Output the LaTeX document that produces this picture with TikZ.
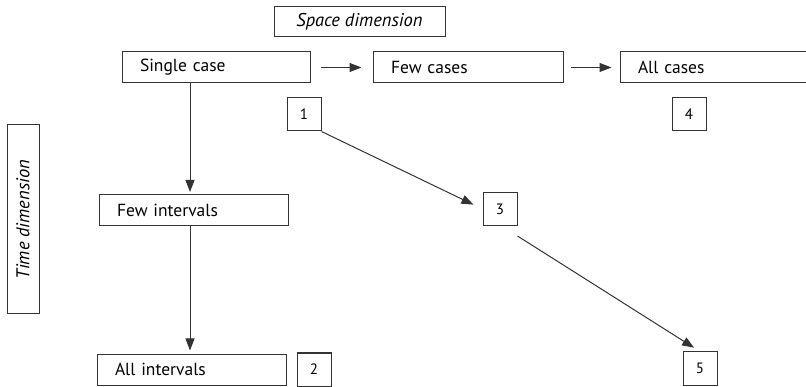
\documentclass[tikz,border=0pt]{standalone}
\usepackage{fontspec}
\setmainfont{PT Sans}
\usetikzlibrary{arrows.meta,calc}
\definecolor{ln}{HTML}{333333}
\tikzset{
  cbox/.style={draw=ln, line width=1pt, minimum height=31pt, inner xsep=18pt, inner ysep=0pt, align=left, font=\fontsize{17.5}{20}\selectfont},
  nbox/.style={draw=ln, line width=1pt, minimum width=34pt, minimum height=33pt, inner sep=0pt, font=\fontsize{15}{17}\selectfont},
  lbox/.style={draw=ln, line width=1pt, inner sep=0pt, font=\fontsize{18.5}{20}\selectfont\itshape},
  arr/.style={draw=ln, line width=1pt, -{Triangle[length=12pt,width=9pt]}}
}
\begin{document}
\begin{tikzpicture}[x=1pt,y=-1pt]
\useasboundingbox (0,0) rectangle (806,387);
\node[lbox, minimum width=171pt, minimum height=30pt] (space) at (359.5,22) {Space dimension};
\node[lbox, minimum width=189pt, minimum height=32pt, rotate=90] (time) at (23,219.5) {Time dimension};

\node[cbox, minimum width=188pt, text width=152pt] (single) at (216,67.5) {Single case};
\node[cbox, minimum width=190pt, text width=154pt] (fewc) at (468,67.5) {Few cases};
\node[cbox, minimum width=190pt, text width=154pt] (allc) at (715,67.5) {All cases};
\node[cbox, minimum width=189pt, text width=153pt] (fewi) at (193.5,210) {Few intervals};
\node[cbox, minimum width=189pt, text width=153pt] (alli) at (191.5,369.5) {All intervals};

\node[nbox] (b1) at (304,114.5) {1};
\node[nbox] (b2) at (314,369.5) {2};
\node[nbox] (b3) at (500,209) {3};
\node[nbox] (b4) at (689,114.5) {4};
\node[nbox] (b5) at (700,368.5) {5};

\draw[arr, shorten <=10pt, shorten >=11pt] (single.east) -- (fewc.west);
\draw[arr, shorten <=7pt, shorten >=8pt] (fewc.east) -- (allc.west);
\draw[arr, shorten >=2pt] (single.south -| 190,0) -- (fewi.north -| 190,0);
\draw[arr, shorten >=3pt] (fewi.south -| 190,0) -- (alli.north -| 190,0);
\draw[arr, shorten >=10pt] (b1.south east) -- (b3.west);
\coordinate (s3) at ($(b3.south east)+(0,10)$);
\draw[arr, shorten >=7pt] (s3) -- (b5.north);
\end{tikzpicture}
\end{document}
